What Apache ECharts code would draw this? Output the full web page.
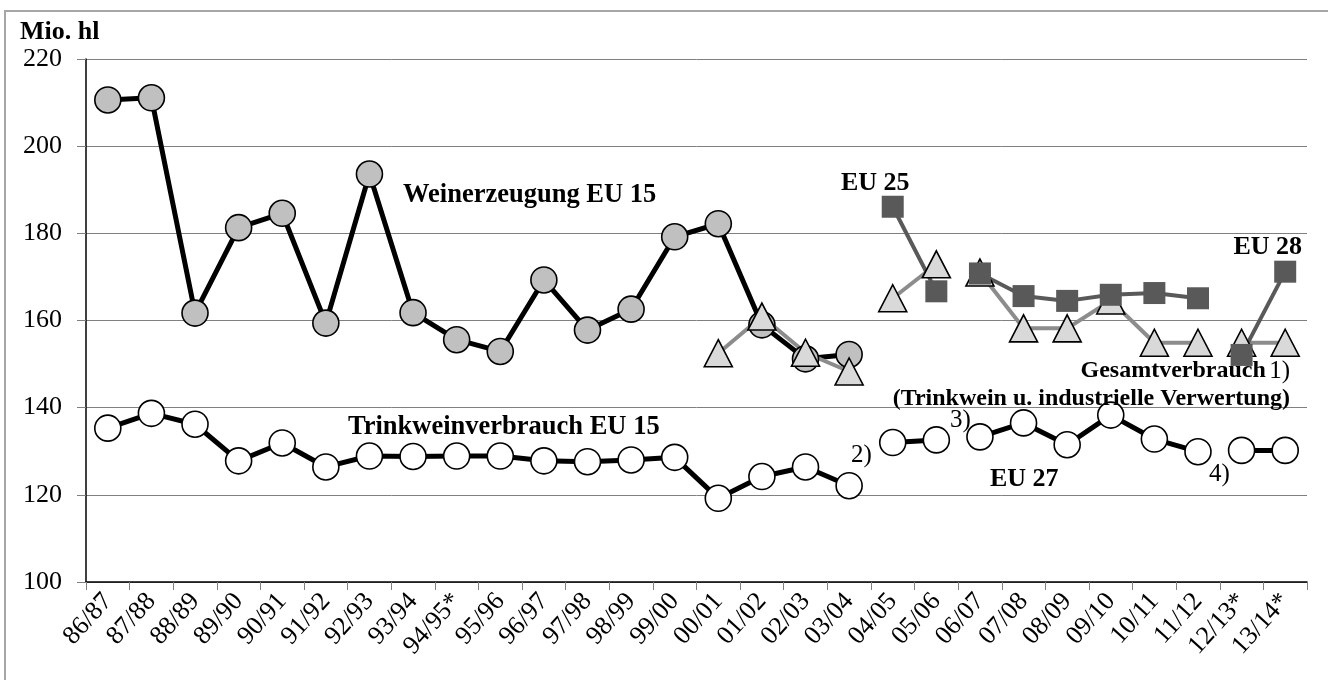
<!DOCTYPE html>
<html>
<head>
<meta charset="utf-8">
<script src="https://cdn.jsdelivr.net/npm/echarts@6/dist/echarts.min.js"></script>
<style>
html,body{margin:0;padding:0;background:#fff;}
#chart{width:1328px;height:680px;}
</style>
</head>
<body>
<div id="chart"></div>
<script>
// ---- data ----
const categories = ['86/87','87/88','88/89','89/90','90/91','91/92','92/93','93/94','94/95*','95/96','96/97','97/98','98/99','99/00','00/01','01/02','02/03','03/04','04/05','05/06','06/07','07/08','08/09','09/10','10/11','11/12','12/13*','13/14*'];

// Weinerzeugung EU 15 (from 86/87)
const weinerzeugungEU15 = [210.6,211.1,161.7,181.3,184.6,159.4,193.6,161.8,155.6,152.9,169.3,157.8,162.6,179.2,182.2,159.0,151.2,152.2];

// Trinkweinverbrauch
const trinkweinEU15 = [135.3,138.7,136.2,127.8,131.9,126.4,128.9,128.8,128.9,128.9,127.8,127.6,128.0,128.6,119.2,124.2,126.4,122.1]; // from 86/87
const trinkweinEU25 = [132.0,132.6];                          // from 04/05
const trinkweinEU27 = [133.3,136.5,131.5,138.3,132.8,129.9];  // from 06/07
const trinkweinEU28 = [130.2,130.2];                          // from 12/13*

// Gesamtverbrauch (Dreiecke)
const gesamtDreieckEU15 = [152.5,160.9,152.6,148.3];              // from 00/01
const gesamtDreieckEU25 = [165.1,172.9];                          // from 04/05
const gesamtDreieckEU27 = [171.0,158.2,158.2,164.6,154.9,154.9];  // from 06/07
const gesamtDreieckEU28 = [154.9,154.9];                          // from 12/13*

// Gesamtverbrauch (Quadrate)
const gesamtQuadratEU25 = [186.1,166.7];                          // from 04/05
const gesamtQuadratEU27 = [170.8,165.6,164.5,165.9,166.3,165.1];  // from 06/07
const gesamtQuadratEU28 = [152.1,171.2];                          // from 12/13*

// ---- helpers ----
function place(values, start){
  const out = categories.map(() => null);
  values.forEach((v,i) => { out[start+i] = v; });
  return out;
}
const FONT = '"Liberation Serif", "Times New Roman", serif';

function circleSeries(name, values, start, fill){
  return {
    name, type:'line', data: place(values,start), connectNulls:false,
    symbol:'circle', symbolSize:26, showSymbol:true,
    lineStyle:{color:'#000', width:5},
    itemStyle:{color:fill, borderColor:'#000', borderWidth:1.6},
    emphasis:{disabled:true}
  };
}
function triSeries(name, values, start){
  return {
    name, type:'line', data: place(values,start), connectNulls:false,
    symbol:'triangle', symbolSize:[28,27], showSymbol:true,
    lineStyle:{color:'#8c8c8c', width:4},
    itemStyle:{color:'#d9d9d9', borderColor:'#000', borderWidth:1.6},
    emphasis:{disabled:true}
  };
}
function sqSeries(name, values, start){
  return {
    name, type:'line', data: place(values,start), connectNulls:false,
    symbol:'rect', symbolSize:22, showSymbol:true,
    lineStyle:{color:'#595959', width:4},
    itemStyle:{color:'#595959', borderColor:'#595959', borderWidth:0},
    emphasis:{disabled:true}
  };
}

const chart = echarts.init(document.getElementById('chart'), null, {renderer:'canvas'});

const bold = {fontFamily:FONT, fontWeight:'bold', fontSize:26, fill:'#000'};
function txt(text, x, y, align, extra){
  return {type:'text', x, y, z:100, style:Object.assign({text, align, verticalAlign:'middle'}, bold, extra||{})};
}

chart.setOption({
  animation:false,
  backgroundColor:'#fff',
  grid:{left:86, right:21, top:59, bottom:98, containLabel:false},
  xAxis:{
    type:'category', data:categories, boundaryGap:true,
    axisLine:{lineStyle:{color:'#000', width:1.5}},
    axisTick:{show:true, length:8, alignWithLabel:false, lineStyle:{color:'#808080', width:1}},
    axisLabel:{interval:0, rotate:48, margin:15, fontFamily:FONT, fontSize:26, color:'#000'},
    splitLine:{show:false}
  },
  yAxis:{
    type:'value', min:100, max:220, interval:20,
    axisLine:{show:true, lineStyle:{color:'#000', width:1.5}},
    axisTick:{show:true, length:9, lineStyle:{color:'#808080', width:1}},
    axisLabel:{margin:24, fontFamily:FONT, fontSize:26, color:'#000'},
    splitLine:{show:true, lineStyle:{color:'#808080', width:1}}
  },
  series:[
    circleSeries('Weinerzeugung EU 15', weinerzeugungEU15, 0, '#c0c0c0'),
    circleSeries('Trinkweinverbrauch EU 15', trinkweinEU15, 0, '#fff'),
    circleSeries('Trinkweinverbrauch EU 25', trinkweinEU25, 18, '#fff'),
    circleSeries('Trinkweinverbrauch EU 27', trinkweinEU27, 20, '#fff'),
    circleSeries('Trinkweinverbrauch EU 28', trinkweinEU28, 26, '#fff'),
    triSeries('Gesamtverbrauch EU 15 (A)', gesamtDreieckEU15, 14),
    triSeries('Gesamtverbrauch EU 25 (A)', gesamtDreieckEU25, 18),
    triSeries('Gesamtverbrauch EU 27 (A)', gesamtDreieckEU27, 20),
    triSeries('Gesamtverbrauch EU 28 (A)', gesamtDreieckEU28, 26),
    sqSeries('Gesamtverbrauch EU 25 (B)', gesamtQuadratEU25, 18),
    sqSeries('Gesamtverbrauch EU 27 (B)', gesamtQuadratEU27, 20),
    sqSeries('Gesamtverbrauch EU 28 (B)', gesamtQuadratEU28, 26)
  ],
  graphic:[
    {type:'rect', z:-1, shape:{x:5, y:11, width:1340, height:700}, style:{fill:'none', stroke:'#a6a6a6', lineWidth:2}},
    txt('Mio. hl', 20, 32, 'left', {fontSize:26}),
    txt('Weinerzeugung EU 15', 403, 195, 'left', {fontSize:26.5}),
    txt('Trinkweinverbrauch EU 15', 348, 427, 'left', {fontSize:26.5}),
    txt('EU 25', 841, 183, 'left'),
    txt('EU 28', 1302, 247, 'right'),
    {type:'text', x:1290, y:371, z:100, style:{
      text:'{b|Gesamtverbrauch} {r|1)}', align:'right', verticalAlign:'middle',
      rich:{b:{fontFamily:FONT, fontWeight:'bold', fontSize:24, fill:'#000'}, r:{fontFamily:FONT, fontWeight:'normal', fontSize:25, fill:'#000'}}
    }},
    txt('(Trinkwein u. industrielle Verwertung)', 1290, 399, 'right', {fontSize:24}),
    txt('EU 27', 990, 479, 'left'),
    txt('2)', 851, 455, 'left', {fontWeight:'normal', fontSize:25}),
    txt('3)', 950, 420, 'left', {fontWeight:'normal', fontSize:25}),
    txt('4)', 1209, 474, 'left', {fontWeight:'normal', fontSize:25})
  ]
});
</script>
</body>
</html>
